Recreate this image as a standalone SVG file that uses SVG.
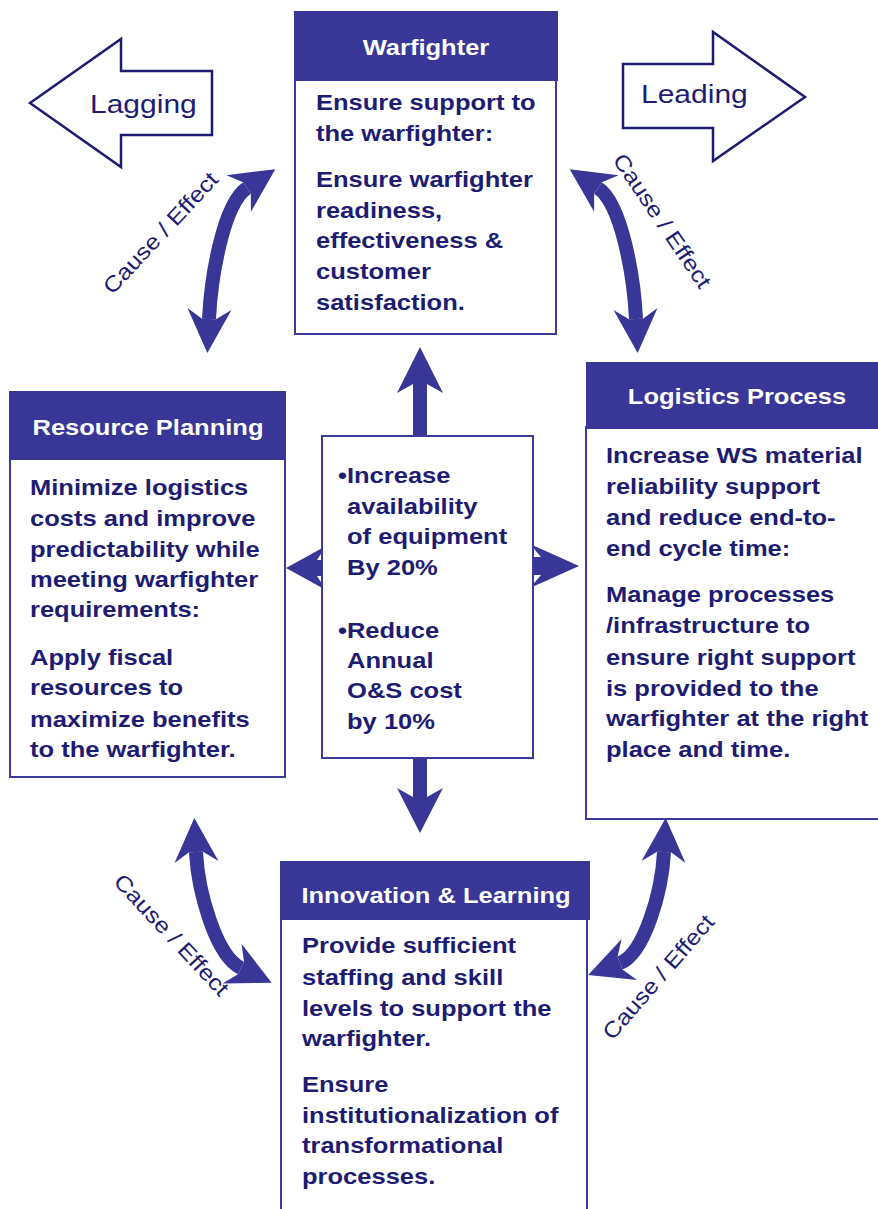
<svg xmlns="http://www.w3.org/2000/svg" width="878" height="1209" viewBox="0 0 878 1209">
<defs>
<style>
.hdr{fill:#383696;}
.box{fill:#fff;stroke:#3c3a9c;stroke-width:2;}
.ht{font-family:"Liberation Sans",Arial,sans-serif;font-weight:bold;font-size:22px;fill:#fff;text-anchor:middle;}
.bt{font-family:"Liberation Sans",Arial,sans-serif;font-weight:bold;font-size:22px;fill:#1e1c72;}
.ce{font-family:"Liberation Sans",Arial,sans-serif;font-size:22px;fill:#1e1c72;text-anchor:middle;}
.lg{font-family:"Liberation Sans",Arial,sans-serif;font-size:25px;fill:#1e1c72;}
.out{fill:#fff;stroke:#1e1c72;stroke-width:2.5;stroke-linejoin:miter;}
.curve{fill:none;stroke:#383696;stroke-width:14;}
.solid{fill:#383696;}
</style>
<marker id="head" viewBox="-12 -24 50 48" refX="0" refY="0" markerWidth="50" markerHeight="48" markerUnits="userSpaceOnUse" orient="auto-start-reverse" overflow="visible">
<path d="M34,0 L-10,-22 L0,-7 L0,7 L-10,22 Z" fill="#383696"/>
</marker>
</defs>
<rect width="878" height="1209" fill="#fff"/>

<g id="lagging">
<polygon class="out" points="30,103 121,39 121,71 212,71 212,135 121,135 121,167"/>
<text class="lg" transform="translate(90,113) scale(1.2,1)">Lagging</text>
</g>
<g id="leading">
<polygon class="out" points="623,64 713,64 713,32 805,97 713,161 713,128 623,128"/>
<text class="lg" transform="translate(641,103) scale(1.2,1)">Leading</text>
</g>

<g id="connectors">
<path class="curve" d="M 209 319 C 211 278, 223 204, 247 188" marker-start="url(#head)" marker-end="url(#head)"/>
<path class="curve" d="M 636 319 C 634 278, 622 204, 598 188" marker-start="url(#head)" marker-end="url(#head)"/>
<path class="curve" d="M 196 852 C 198 892, 216 956, 241 968" marker-start="url(#head)" marker-end="url(#head)"/>
<path class="curve" d="M 664 852 C 662 892, 644 954, 620 963" marker-start="url(#head)" marker-end="url(#head)"/>
<polygon class="solid" points="420,347 443,393 427,384 427,440 413,440 413,384 397,393"/>
<polygon class="solid" points="420,833 397,788 413,797 413,754 427,754 427,797 443,788"/>
<polygon class="solid" points="286,568 326,546 317,560 330,560 330,576 317,576 326,590"/>
<polygon class="solid" points="579,566 530,544 541,557 525,557 525,575 541,575 530,588"/>
<text class="ce" transform="translate(166,238) rotate(-47) scale(1.14,1)">Cause / Effect</text>
<text class="ce" transform="translate(656,225) rotate(56) scale(1.14,1)">Cause / Effect</text>
<text class="ce" transform="translate(166,940) rotate(47) scale(1.14,1)">Cause / Effect</text>
<text class="ce" transform="translate(664,982) rotate(-49) scale(1.14,1)">Cause / Effect</text>
</g>

<g id="warfighter">
<rect class="box" x="295" y="78" width="261" height="256"/>
<rect class="hdr" x="294" y="11" width="264" height="70"/>
<text class="ht" transform="translate(426,55) scale(1.16,1)">Warfighter</text>
<g transform="translate(316,0) scale(1.16,1)">
<text class="bt" x="0" y="110">Ensure support to</text>
<text class="bt" x="0" y="141">the warfighter:</text>
<text class="bt" x="0" y="187">Ensure warfighter</text>
<text class="bt" x="0" y="218">readiness,</text>
<text class="bt" x="0" y="248">effectiveness &amp;</text>
<text class="bt" x="0" y="279">customer</text>
<text class="bt" x="0" y="310">satisfaction.</text>
</g>
</g>

<g id="resource-planning">
<rect class="box" x="10" y="458" width="275" height="319"/>
<rect class="hdr" x="9" y="391" width="277" height="69"/>
<text class="ht" transform="translate(148,435) scale(1.16,1)">Resource Planning</text>
<g transform="translate(30,0) scale(1.16,1)">
<text class="bt" x="0" y="495">Minimize logistics</text>
<text class="bt" x="0" y="526">costs and improve</text>
<text class="bt" x="0" y="557">predictability while</text>
<text class="bt" x="0" y="587">meeting warfighter</text>
<text class="bt" x="0" y="617">requirements:</text>
<text class="bt" x="0" y="665">Apply fiscal</text>
<text class="bt" x="0" y="695">resources to</text>
<text class="bt" x="0" y="727">maximize benefits</text>
<text class="bt" x="0" y="757">to the warfighter.</text>
</g>
</g>

<g id="logistics-process">
<rect class="box" x="586" y="427" width="310" height="392"/>
<rect class="hdr" x="586" y="362" width="300" height="67"/>
<text class="ht" transform="translate(737,404) scale(1.16,1)">Logistics Process</text>
<g transform="translate(606,0) scale(1.16,1)">
<text class="bt" x="0" y="463">Increase WS material</text>
<text class="bt" x="0" y="494">reliability support</text>
<text class="bt" x="0" y="525">and reduce end-to-</text>
<text class="bt" x="0" y="556">end cycle time:</text>
<text class="bt" x="0" y="602">Manage processes</text>
<text class="bt" x="0" y="633">/infrastructure to</text>
<text class="bt" x="0" y="665">ensure right support</text>
<text class="bt" x="0" y="696">is provided to the</text>
<text class="bt" x="0" y="726">warfighter at the right</text>
<text class="bt" x="0" y="757">place and time.</text>
</g>
</g>

<g id="innovation-learning">
<rect class="box" x="281" y="918" width="306" height="310"/>
<rect class="hdr" x="280" y="861" width="310" height="59"/>
<text class="ht" transform="translate(436,903) scale(1.16,1)">Innovation &amp; Learning</text>
<g transform="translate(302,0) scale(1.16,1)">
<text class="bt" x="0" y="953">Provide sufficient</text>
<text class="bt" x="0" y="985">staffing and skill</text>
<text class="bt" x="0" y="1016">levels to support the</text>
<text class="bt" x="0" y="1046">warfighter.</text>
<text class="bt" x="0" y="1092">Ensure</text>
<text class="bt" x="0" y="1123">institutionalization of</text>
<text class="bt" x="0" y="1153">transformational</text>
<text class="bt" x="0" y="1184">processes.</text>
</g>
</g>

<g id="goals">
<rect class="box" x="322" y="436" width="211" height="322"/>
<g transform="translate(338,0) scale(1.16,1)">
<text class="bt" x="0" y="483">•Increase</text>
<text class="bt" x="7.8" y="514">availability</text>
<text class="bt" x="7.8" y="544">of equipment</text>
<text class="bt" x="7.8" y="575">By 20%</text>
<text class="bt" x="0" y="638">•Reduce</text>
<text class="bt" x="7.8" y="668">Annual</text>
<text class="bt" x="7.8" y="698">O&amp;S cost</text>
<text class="bt" x="7.8" y="729">by 10%</text>
</g>
</g>
</svg>
